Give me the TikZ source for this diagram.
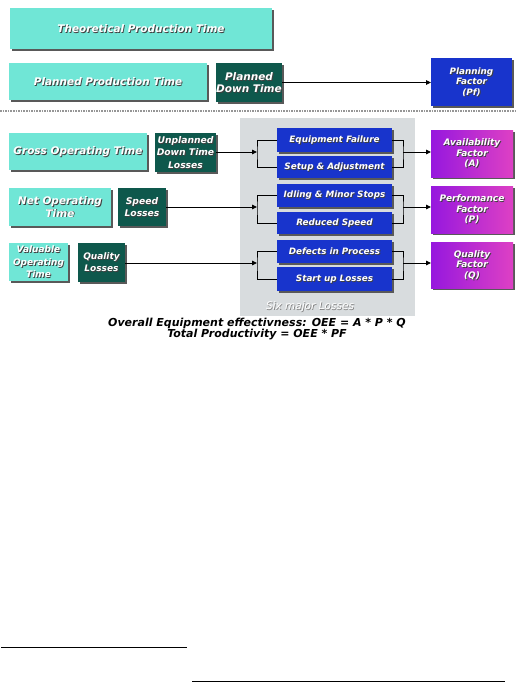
\documentclass[tikz,border=0pt]{standalone}
\usepackage{fontspec}
\setmainfont{DejaVu Sans}
\usetikzlibrary{arrows.meta,shadows}
\definecolor{turq}{RGB}{112,230,214}
\definecolor{dgreen}{RGB}{14,88,76}
\definecolor{lblue}{RGB}{24,52,204}
\definecolor{pleft}{RGB}{150,24,222}
\definecolor{pright}{RGB}{222,64,196}
\definecolor{panel}{RGB}{216,220,222}
\definecolor{sepc}{RGB}{150,150,150}
\newcommand\fs[2]{\fontsize{#1}{#2}\selectfont\bfseries\itshape}
\tikzset{
  base/.style={draw=none, inner sep=0pt, outer sep=0pt,
    drop shadow={shadow xshift=1.6pt, shadow yshift=-1.6pt, fill=black!65, opacity=1}},
  tbox/.style={base, fill=turq},
  gbox/.style={base, fill=dgreen},
  bbox/.style={base, fill=lblue},
  pbox/.style={base, left color=pleft, right color=pright},
  lbl/.style={align=center, inner sep=0pt, outer sep=0pt},
  conn/.style={line width=0.9pt, black},
  arr/.style={conn, -{Triangle[length=5pt,width=4.5pt]}},
}
\newcommand\bx[8]{%
  \node[#2, minimum width={(#5)-(#3)}, minimum height={(#6)-(#4)}] (#1) at ({((#3)+(#5))/2},{((#4)+(#6))/2}) {};
  \node[lbl, font=#7, text=black!75] (#1s) at ([shift={(0.9pt,-0.9pt)}]#1.center) {#8};
  \node[lbl, font=#7, text=white] (#1t) at (#1.center) {#8};}
\begin{document}
\begin{tikzpicture}[x=1pt,y=-1pt]
\useasboundingbox (0,0) rectangle (515,683);
% panel
\fill[panel] (240,118) rectangle (415,316);
% separator
\coordinate (sl) at (0,111);
\coordinate (sr) at (515,111);
\draw[sepc, line width=2.6pt, dash pattern=on 1.6pt off 1pt] (sl) -- (sr);
% top rows
\bx{tpt}{tbox}{10}{8}{272}{49}{\fs{10.5}{12}}{Theoretical Production Time}
\bx{ppt}{tbox}{9}{63}{207}{100}{\fs{10.5}{12}}{Planned Production Time}
\bx{pdt}{gbox}{216}{63}{282}{102}{\fs{10.5}{11.5}}{Planned\\Down Time}
\bx{pf}{bbox}{431}{58}{512}{106}{\fs{8.8}{10.5}}{Planning\\Factor\\(Pf)}
% left column
\bx{got}{tbox}{9}{133}{147}{170}{\fs{10.5}{12}}{Gross Operating Time}
\bx{udl}{gbox}{155}{133}{216}{172}{\fs{9.2}{12.3}}{Unplanned\\Down Time\\Losses}
\bx{not}{tbox}{9}{188}{111}{226}{\fs{10.5}{12.3}}{Net Operating\\Time}
\bx{spl}{gbox}{118}{188}{166}{226}{\fs{9.2}{12}}{Speed\\Losses}
\bx{vot}{tbox}{9}{243}{68}{281}{\fs{9}{12.5}}{Valuable\\Operating\\Time}
\bx{qul}{gbox}{78}{243}{125}{282}{\fs{9}{12}}{Quality\\Losses}
% six losses
\bx{ef}{bbox}{277}{128}{392}{152}{\fs{8.8}{11}}{Equipment Failure}
\bx{sa}{bbox}{277}{156}{392}{178}{\fs{8.8}{11}}{Setup \& Adjustment}
\bx{im}{bbox}{277}{184}{392}{207}{\fs{8.8}{11}}{Idling \& Minor Stops}
\bx{rs}{bbox}{277}{212}{392}{234}{\fs{8.8}{11}}{Reduced Speed}
\bx{dp}{bbox}{277}{240}{392}{263}{\fs{8.8}{11}}{Defects in Process}
\bx{su}{bbox}{277}{267}{392}{291}{\fs{8.8}{11}}{Start up Losses}
% factors
\bx{av}{pbox}{431}{130}{513}{177}{\fs{9}{10.5}}{Availability\\Factor\\(A)}
\bx{pe}{pbox}{431}{186}{513}{233}{\fs{9}{10.5}}{Performance\\Factor\\(P)}
\bx{qf}{pbox}{431}{242}{513}{288}{\fs{9}{10.5}}{Quality\\Factor\\(Q)}
% six major losses label
\node[lbl, font=\fontsize{10.5}{12}\selectfont\itshape, text=black!50] (sixs) at (310.8,307.8) {Six major Losses};
\node[lbl, font=\fontsize{10.5}{12}\selectfont\itshape, text=white] (six) at (310,307) {Six major Losses};
% connectors
\draw[arr] (pdt.east) -- (pdt.east -| pf.west);
\coordinate (bl1) at (257,152); \coordinate (br1) at (403,152);
\coordinate (bl2) at (257,207); \coordinate (br2) at (403,207);
\coordinate (bl3) at (257,263); \coordinate (br3) at (403,263);
\draw[arr] (udl.east |- bl1) -- (bl1);
\draw[arr] (spl.east |- bl2) -- (bl2);
\draw[arr] (qul.east |- bl3) -- (bl3);
\draw[conn] (ef.west) -| (bl1) |- (sa.west);
\draw[conn] (im.west) -| (bl2) |- (rs.west);
\draw[conn] (dp.west) -| (bl3) |- (su.west);
\draw[conn] (ef.east) -| (br1) |- (sa.east);
\draw[conn] (im.east) -| (br2) |- (rs.east);
\draw[conn] (dp.east) -| (br3) |- (su.east);
\draw[arr] (br1) -- (br1 -| av.west);
\draw[arr] (br2) -- (br2 -| pe.west);
\draw[arr] (br3) -- (br3 -| qf.west);
% formula
\node[lbl, font=\fs{11}{10.5}, text=black] (oee) at (257,329) {Overall Equipment effectivness: OEE = A * P * Q\\Total Productivity = OEE * PF};
% bottom rules
\coordinate (r1a) at (1,647); \coordinate (r1b) at (187,647);
\coordinate (r2a) at (192,681); \coordinate (r2b) at (505,681);
\draw[line width=0.9pt] (r1a) -- (r1b);
\draw[line width=0.9pt] (r2a) -- (r2b);
\end{tikzpicture}
\end{document}
